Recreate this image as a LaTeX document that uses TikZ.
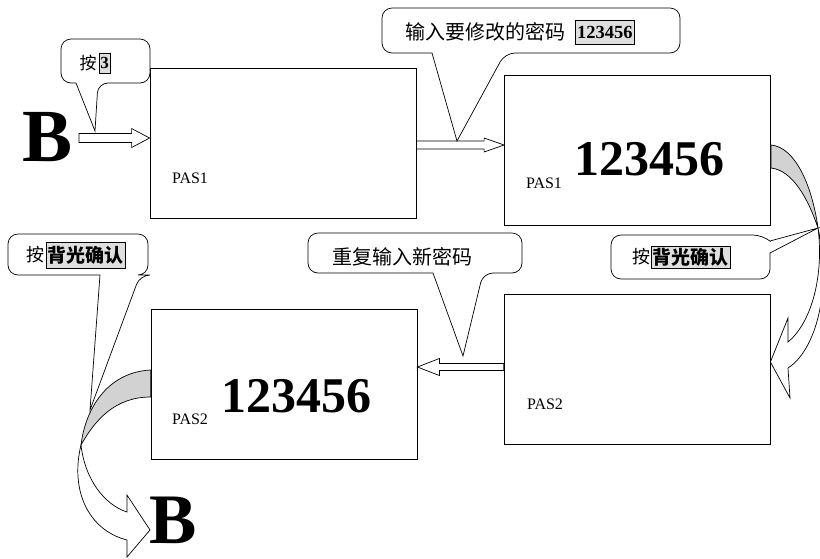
\documentclass[tikz,border=0pt]{standalone}
\usepackage{fontspec}
\setmainfont{Liberation Serif}
\newfontfamily\cjk{Noto Sans CJK SC}
\usetikzlibrary{calc,positioning}

% hollow block arrow: start, tip, shaft half width, head half width, head length
\newcommand\hollowarrow[5]{%
  \draw[blockarrow] ($(#1)-(0,#3)$) -- ($(#2)-(#5,#3)$) -- ($(#2)-(#5,#4)$) -- (#2)
    -- ($(#2)-(#5,-#4)$) -- ($(#2)-(#5,-#3)$) -- ($(#1)-(0,-#3)$) -- cycle;}

\begin{document}
\begin{tikzpicture}[x=1pt,y=-1pt,
    screen/.style={draw,line width=.8pt,minimum width=266,minimum height=150,inner sep=0},
    pas/.style={font=\fontsize{16}{16}\selectfont,anchor=base,inner sep=0},
    code/.style={font=\fontsize{50}{50}\selectfont\bfseries,anchor=base,inner sep=0},
    bigB/.style={font=\fontsize{75}{75}\selectfont\bfseries,anchor=base,inner sep=0},
    callout/.style={draw,line width=.7pt,fill=white,line join=miter},
    blockarrow/.style={draw,line width=.7pt,fill=white,line join=miter},
    backface/.style={draw,line width=.7pt,fill=gray!35},
    tiptext/.style={font=\cjk\fontsize{20}{20}\selectfont,inner sep=0},
    field/.style={draw,line width=.4pt,fill=gray!25,inner sep=1.5pt,minimum height=22}]
  \useasboundingbox (0,0) rectangle (820,558);

  % screens
  \node[screen] (pasA) at (283,143.5) {};
  \node[screen] (pasB) at (637.5,150) {};
  \node[screen] (pasC) at (637,369.5) {};
  \node[screen] (pasD) at (284,384.5) {};
  \node[pas] (pasAl) at (190,183) {PAS1};
  \node[pas] (pasBl) at (544,188) {PAS1};
  \node[pas] (pasCl) at (545,409) {PAS2};
  \node[pas] (pasDl) at (190,424) {PAS2};
  \node[code] (codeB) at (649,175) {123456};
  \node[code] (codeD) at (296,412) {123456};
  \node[bigB] (keyB) at (48,161) {B};
  \node[bigB,font=\fontsize{71}{71}\selectfont\bfseries] (keyBend) at (173,543) {B};

  % straight arrows
  \coordinate (a1s) at (79,138);
  \coordinate (a1t) at (pasA.west |- a1s);
  \coordinate (a2s) at (pasA.east |- 0,145);
  \coordinate (a2t) at (pasB.west |- a2s);
  \coordinate (a3s) at (pasC.west |- 0,367);
  \coordinate (a3t) at (pasD.east |- a3s);
  \hollowarrow{a1s}{a1t}{4.5}{9.5}{18}
  \hollowarrow{a2s}{a2t}{4}{7}{20}
  \hollowarrow{a3s}{a3t}{3.5}{8.5}{-22}

  % curved arrows
  \coordinate (twR) at (818,228);
  \coordinate (twL) at (81,445);
  \draw[backface] (pasB.east |- 0,145) .. controls (795,147) and (812,185) .. (twR)
    .. controls (808,198) and (792,170) .. (pasB.east |- 0,168) -- cycle;
  \draw[blockarrow] (twR) .. controls (824,275) and (812,322) .. (788,342) -- (788,318)
    -- (pasC.east |- 0,362) -- (790,398) -- (788,368) .. controls (816,350) and (832,290) .. (twR) -- cycle;
  \draw[backface] (pasD.west |- 0,370) .. controls (110,372) and (86,405) .. (twL)
    .. controls (95,420) and (115,397) .. (pasD.west |- 0,397) -- cycle;
  \draw[blockarrow] (twL) .. controls (85,480) and (105,505) .. (127,512) -- (127,495)
    -- (150,530) -- (127,557) -- (127,540) .. controls (88,530) and (70,490) .. (twL) -- cycle;

  % callouts
  \draw[callout] (76,83) [rounded corners=10] -- (61,83) -- (61,39) -- (150,39) -- (150,83)
    -- (98,83) [sharp corners] -- (95,131) -- cycle;
  \draw[callout] (432,53) [rounded corners=10] -- (382,53) -- (382,8) -- (680,8) -- (680,53)
    -- (505,53) [sharp corners] -- (457,141) -- cycle;
  \draw[callout] (770,253) [rounded corners=10] -- (770,279) -- (611,279) -- (611,235)
    -- (763,235) [sharp corners] -- (770,241) -- (twR) -- cycle;
  \draw[callout] (100,275) [rounded corners=10] -- (8,275) -- (8,234) -- (148,234) -- (148,275)
    -- (140,275) [sharp corners] -- (90,410) -- cycle;
  \draw[callout] (433,273) [rounded corners=10] -- (308,273) -- (308,233) -- (522,233) -- (522,273)
    -- (483,273) [sharp corners] -- (463,356) -- cycle;

  % callout texts
  \node[tiptext,font=\cjk\fontsize{17}{17}\selectfont] (t1) at (88,63) {按};
  \node[field,right=2pt of t1,font=\fontsize{17}{17}\selectfont\bfseries,minimum height=20] (f1) {3};
  \node[tiptext,anchor=west] (t2) at (405,32) {输入要修改的密码};
  \node[field,right=10pt of t2,font=\fontsize{18.5}{18.5}\selectfont\bfseries,minimum height=24] (f2) {123456};
  \node[tiptext,font=\cjk\fontsize{18}{18}\selectfont] (t3) at (641,257) {按};
  \node[field,right=1pt of t3,font=\cjk\fontsize{19}{19}\selectfont\bfseries] (f3) {背光确认};
  \node[tiptext,font=\cjk\fontsize{18}{18}\selectfont] (t4) at (36,255) {按};
  \node[field,right=1pt of t4,font=\cjk\fontsize{19}{19}\selectfont\bfseries,minimum height=26] (f4) {背光确认};
  \node[tiptext] (t5) at (402,257) {重复输入新密码};
\end{tikzpicture}
\end{document}
